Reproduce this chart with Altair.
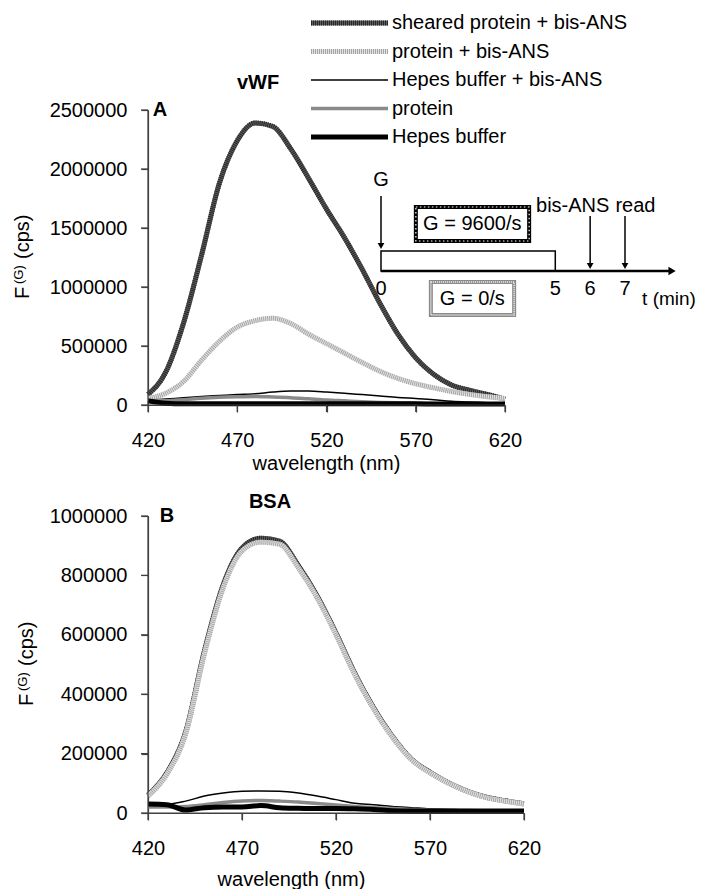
import altair as alt
import pandas as pd

FONT = "Liberation Sans"

# ---------------- data ----------------
wavelength = [420, 430, 440, 450, 460, 470, 480, 490, 500, 510, 520,
              530, 540, 550, 560, 570, 580, 590, 600, 610, 620]
x_ticks = [420, 470, 520, 570, 620]

series_names = ["sheared protein + bis-ANS", "protein + bis-ANS",
                "Hepes buffer + bis-ANS", "protein", "Hepes buffer"]

# panel A: vWF
vwf_y_ticks = [0, 500000, 1000000, 1500000, 2000000, 2500000]
vwf_sheared_bisans = [90000, 280000, 700000, 1270000, 1880000, 2240000, 2390000,
                      2360000, 2170000, 1920000, 1660000, 1420000, 1150000, 860000,
                      600000, 400000, 260000, 170000, 125000, 90000, 50000]
vwf_protein_bisans = [55000, 100000, 200000, 380000, 540000, 660000, 715000,
                      735000, 690000, 600000, 520000, 440000, 360000, 285000,
                      225000, 180000, 145000, 115000, 90000, 70000, 55000]
vwf_hepes_bisans = [40000, 50000, 62000, 72000, 80000, 88000, 95000,
                    110000, 118000, 118000, 110000, 100000, 88000, 76000,
                    64000, 55000, 45000, 32000, 25000, 20000, 18000]
vwf_protein = [40000, 35000, 45000, 58000, 66000, 70000, 72000,
               68000, 62000, 52000, 42000, 35000, 28000, 22000,
               18000, 15000, 12000, 10000, 8000, 7000, 6000]
vwf_hepes = [35000, 15000, 10000, 10000, 10000, 10000, 10000,
             10000, 10000, 10000, 10000, 10000, 10000, 10000,
             10000, 10000, 9000, 9000, 8000, 8000, 8000]

# panel B: BSA
bsa_y_ticks = [0, 200000, 400000, 600000, 800000, 1000000]
bsa_sheared_bisans = [60000, 135000, 272000, 545000, 768000, 892000, 925000,
                      915000, 833000, 730000, 606000, 470000, 354000, 258000,
                      182000, 137000, 101000, 73000, 53000, 41000, 31000]
bsa_protein_bisans = [57000, 130000, 265000, 535000, 758000, 882000, 912000,
                      905000, 825000, 724000, 600000, 465000, 350000, 255000,
                      180000, 135000, 100000, 72000, 52000, 40000, 30000]
bsa_hepes_bisans = [34000, 30000, 40000, 57000, 67000, 73000, 74000,
                    73000, 67000, 57000, 45000, 33000, 28000, 22000,
                    18000, 14000, 12000, 10000, 9000, 8000, 7000]
bsa_protein = [20000, 20000, 22000, 28000, 35000, 40000, 42000,
               40000, 37000, 32000, 27000, 22000, 18000, 15000,
               12000, 10000, 9000, 8000, 7000, 6000, 6000]
bsa_hepes = [30000, 28000, 10000, 18000, 20000, 20000, 25000,
             18000, 16000, 15000, 15000, 14000, 12000, 8000,
             7000, 7000, 7000, 7000, 7000, 7000, 7000]

# inset (shear protocol, minutes)
shear_period = [0, 5]
event_times = [0, 6, 7]
event_labels = ["G", "bis-ANS", "read"]
event_label_t = [0, 5.5, 7.3]
time_ticks = [0, 5, 6, 7]
shear_rates = ["G = 9600/s", "G = 0/s"]

# ---------------- styles / layout ----------------
line_style = {
    "sheared protein + bis-ANS": dict(color="#5e5e5e", width=5, stripe="#262626"),
    "protein + bis-ANS": dict(color="#e4e4e4", width=5, stripe="#a4a4a4"),
    "Hepes buffer + bis-ANS": dict(color="#000000", width=1.5, stripe=None),
    "protein": dict(color="#8a8a8a", width=3.5, stripe=None),
    "Hepes buffer": dict(color="#000000", width=5, stripe=None),
}
AXIS_COLOR = "#404040"
TICK = 7
OX = 10   # inner left margin of each panel group
OB = 10   # inner bottom margin of each panel group


def long_df(values):
    rows = []
    for name, vals in zip(series_names, values):
        for w, v in zip(wavelength, vals):
            rows.append({"series": name, "wavelength": w, "F": v})
    return pd.DataFrame(rows)


def scales(ydomain, W, H):
    xs = alt.Scale(domain=[420, 620], range=[OX, OX + W], nice=False, zero=False)
    ys = alt.Scale(domain=ydomain, range=[H, 0], nice=False)
    return xs, ys


def data_layer(df, ydomain, yvalues, W, H, title_x, title_y):
    xs, ys = scales(ydomain, W, H)
    x = alt.X("wavelength:Q", scale=xs,
              axis=alt.Axis(values=x_ticks, title="wavelength (nm)", offset=-OB,
                            titleX=title_x, titleY=title_y, titleBaseline="middle",
                            labelFlush=False, domain=True, ticks=True,
                            domainColor=AXIS_COLOR, tickColor=AXIS_COLOR,
                            domainWidth=1.2, tickWidth=1.2,
                            tickSize=TICK, labelPadding=18))
    y = alt.Y("F:Q", scale=ys,
              axis=alt.Axis(values=yvalues, format="d", title=None, offset=-OX,
                            labelFlush=False, domain=True, ticks=True,
                            domainColor=AXIS_COLOR, tickColor=AXIS_COLOR,
                            domainWidth=1.2, tickWidth=1.2,
                            tickSize=TICK, labelPadding=14))
    layers = []
    for name in series_names:
        st = line_style[name]
        d = df[df.series == name]
        layers.append(alt.Chart(d).mark_line(color=st["color"], strokeWidth=st["width"],
                                             interpolate="monotone", strokeJoin="round")
                      .encode(x=x, y=y))
        if st["stripe"]:
            layers.append(alt.Chart(d).mark_line(color=st["stripe"], strokeWidth=st["width"],
                                                 strokeDash=[1, 1], interpolate="monotone")
                          .encode(x=x, y=y))
    return alt.layer(*layers)


def frame_layer(ydomain, yvalues, W, H):
    """Axis lines + outward ticks; one coordinate through a scale, the other fixed."""
    xs, ys = scales(ydomain, W, H)
    X = lambda f: alt.X(f, type="quantitative", scale=xs, axis=None)
    Y = lambda f: alt.Y(f, type="quantitative", scale=ys, axis=None)
    yspan = pd.DataFrame({"F": [ydomain[0]], "F2": [ydomain[1]]})
    xspan = pd.DataFrame({"w": [x_ticks[0]], "w2": [x_ticks[-1]]})
    yt = pd.DataFrame({"F": yvalues})
    xt = pd.DataFrame({"w": x_ticks})
    return alt.layer(
        alt.Chart(yspan).mark_rect(color=AXIS_COLOR)
        .encode(x=alt.value(OX - 0.6), x2=alt.value(OX + 0.6), y=Y("F"), y2="F2"),
        alt.Chart(xspan).mark_rect(color=AXIS_COLOR)
        .encode(x=X("w"), x2="w2", y=alt.value(H - 0.6), y2=alt.value(H + 0.6)),
        alt.Chart(yt).mark_rule(color=AXIS_COLOR, strokeWidth=1.2)
        .encode(x=alt.value(OX - TICK), x2=alt.value(OX), y=Y("F")),
        alt.Chart(xt).mark_rule(color=AXIS_COLOR, strokeWidth=1.2)
        .encode(x=X("w"), y=alt.value(H), y2=alt.value(H + TICK)),
    ).resolve_scale(x="shared", y="shared")


one = pd.DataFrame({"k": [0]})


def text_at(txt, x, y, size=20, bold=False, angle=0, align="center", baseline="middle"):
    kw = dict(text=txt, font=FONT, fontSize=size, color="black",
              fontWeight="bold" if bold else "normal", align=align, baseline=baseline)
    if angle:
        kw["angle"] = angle
    return alt.Chart(one).mark_text(**kw).encode(x=alt.value(x + OX), y=alt.value(y))


def ytitle(x, y):
    return [
        text_at("F", x, y, angle=270, align="left", baseline="alphabetic"),
        text_at("(G)", x - 6, y - 15, size=13, angle=270, align="left", baseline="alphabetic"),
        text_at("(cps)", x, y - 40, angle=270, align="left", baseline="alphabetic"),
    ]


# ---------------- legend (custom, top of panel A) ----------------
legend_df = pd.DataFrame({"series": series_names, "row": list(range(len(series_names)))})
row_y = alt.Y("row:Q", scale=alt.Scale(domain=[0, 4], range=[-87, 27]), axis=None)
legend_layers = []
for name in series_names:
    st = line_style[name]
    d = legend_df[legend_df.series == name]
    legend_layers.append(alt.Chart(d).mark_rule(color=st["color"], strokeWidth=st["width"],
                                                strokeCap="butt")
                         .encode(x=alt.value(OX + 163), x2=alt.value(OX + 240), y=row_y))
    if st["stripe"]:
        legend_layers.append(alt.Chart(d).mark_rule(color=st["stripe"], strokeWidth=st["width"],
                                                    strokeDash=[1, 1], strokeCap="butt")
                             .encode(x=alt.value(OX + 163), x2=alt.value(OX + 240), y=row_y))
legend_layers.append(alt.Chart(legend_df).mark_text(align="left", baseline="middle", font=FONT,
                                                    fontSize=20, color="black")
                     .encode(x=alt.value(OX + 244), y=row_y, text="series:N"))
legend = alt.layer(*legend_layers)

# ---------------- inset (shear protocol) ----------------
t_scale = alt.Scale(domain=[0, 7], range=[OX + 233, OX + 477], nice=False, zero=False)
tX = lambda f: alt.X(f, type="quantitative", scale=t_scale, axis=None)

period_df = pd.DataFrame({"t0": [shear_period[0]], "t1": [shear_period[1]]})
axis_df = pd.DataFrame({"t0": [0], "t1": [8.35]})
ev_df = pd.DataFrame({"t": event_times, "label": event_labels, "lt": event_label_t})
tick_df = pd.DataFrame({"t": time_ticks, "label": [str(v) for v in time_ticks]})
rate_df = pd.DataFrame({"label": shear_rates, "t0": [1.0, 1.43], "t1": [4.25, 3.82],
                        "tc": [2.62, 2.62]})

inset_layers = [
    alt.Chart(period_df).mark_rect(fill="white", stroke="black", strokeWidth=1.5)
    .encode(x=tX("t0"), x2="t1", y=alt.value(141), y2=alt.value(161)),
    alt.Chart(axis_df).mark_rule(color="black", strokeWidth=2.5)
    .encode(x=tX("t0"), x2="t1", y=alt.value(161)),
    alt.Chart(axis_df).mark_point(shape="triangle-right", filled=True, color="black", size=70, opacity=1)
    .encode(x=tX("t1"), y=alt.value(161)),
    alt.Chart(ev_df[ev_df.t == 0]).mark_rule(color="black", strokeWidth=1.5)
    .encode(x=tX("t"), y=alt.value(86), y2=alt.value(136)),
    alt.Chart(ev_df[ev_df.t == 0]).mark_point(shape="triangle-down", filled=True, color="black", size=45, opacity=1)
    .encode(x=tX("t"), y=alt.value(136)),
    alt.Chart(ev_df[ev_df.t > 0]).mark_rule(color="black", strokeWidth=1.5)
    .encode(x=tX("t"), y=alt.value(106), y2=alt.value(156)),
    alt.Chart(ev_df[ev_df.t > 0]).mark_point(shape="triangle-down", filled=True, color="black", size=45, opacity=1)
    .encode(x=tX("t"), y=alt.value(156)),
    alt.Chart(ev_df[ev_df.t == 0]).mark_text(font=FONT, fontSize=20, color="black", baseline="middle")
    .encode(x=tX("lt"), y=alt.value(70), text="label:N"),
    alt.Chart(ev_df[ev_df.t > 0]).mark_text(font=FONT, fontSize=20, color="black", baseline="middle")
    .encode(x=tX("lt"), y=alt.value(96), text="label:N"),
    alt.Chart(tick_df).mark_text(font=FONT, fontSize=20, color="black", baseline="middle")
    .encode(x=tX("t"), y=alt.value(179), text="label:N"),
    alt.Chart(one).mark_text(text="t (min)", font=FONT, fontSize=19, color="black", baseline="middle")
    .encode(x=alt.value(OX + 521), y=alt.value(189)),
    alt.Chart(rate_df.iloc[[0]]).mark_rect(fill="white", stroke="black", strokeWidth=4)
    .encode(x=tX("t0"), x2="t1", y=alt.value(97), y2=alt.value(131)),
    alt.Chart(rate_df.iloc[[0]]).mark_rect(fill=None, stroke="white", strokeWidth=1.2, strokeDash=[1.5, 2.5])
    .encode(x=tX("t0"), x2="t1", y=alt.value(97), y2=alt.value(131)),
    alt.Chart(rate_df.iloc[[1]]).mark_rect(fill="white", stroke="#8a8a8a", strokeWidth=4)
    .encode(x=tX("t0"), x2="t1", y=alt.value(172), y2=alt.value(205)),
    alt.Chart(rate_df.iloc[[1]]).mark_rect(fill=None, stroke="white", strokeWidth=1.5, strokeDash=[1, 1])
    .encode(x=tX("t0"), x2="t1", y=alt.value(172), y2=alt.value(205)),
    alt.Chart(rate_df.iloc[[0]]).mark_text(font=FONT, fontSize=20, color="black", baseline="middle")
    .encode(x=tX("tc"), y=alt.value(114), text="label:N"),
    alt.Chart(rate_df.iloc[[1]]).mark_text(font=FONT, fontSize=20, color="black", baseline="middle")
    .encode(x=tX("tc"), y=alt.value(189), text="label:N"),
]
inset = alt.layer(*inset_layers)

# ---------------- panels ----------------
df_a = long_df([vwf_sheared_bisans, vwf_protein_bisans, vwf_hepes_bisans, vwf_protein, vwf_hepes])
df_b = long_df([bsa_sheared_bisans, bsa_protein_bisans, bsa_hepes_bisans, bsa_protein, bsa_hepes])

H_A, H_B = 295, 297
W_A, W_B = 357, 376
lines_a = data_layer(df_a, [0, 2500000], vwf_y_ticks, W_A, H_A, OX + 178, 58)
lines_b = data_layer(df_b, [0, 1000000], bsa_y_ticks, W_B, H_B, OX + 143, 66)

panel_a = alt.layer(
    lines_a, legend, inset,
    text_at("A", 12, 0, bold=True), text_at("vWF", 110, -27, bold=True),
    *ytitle(-119, 189),
    frame_layer([0, 2500000], vwf_y_ticks, W_A, H_A),
).resolve_scale(x="independent", y="independent").properties(width=W_A + OX, height=H_A + OB)

panel_b = alt.layer(
    lines_b,
    text_at("B", 19, 0, bold=True), text_at("BSA", 122, -14, bold=True),
    *ytitle(-115, 190),
    frame_layer([0, 1000000], bsa_y_ticks, W_B, H_B),
).resolve_scale(x="independent", y="independent").properties(width=W_B + OX, height=H_B + OB)

chart = (
    alt.vconcat(panel_a, panel_b, spacing=111 - OB, bounds="flush")
    .properties(padding={"left": 5, "top": 5, "right": 0, "bottom": 0})
    .configure_view(stroke=None)
    .configure_axis(labelFont=FONT, labelFontSize=20, labelColor="black",
                    titleFont=FONT, titleFontSize=20, titleFontWeight="normal", titleColor="black",
                    grid=False)
)

chart.save("out.html", embed_options={"renderer": "svg", "actions": False})
